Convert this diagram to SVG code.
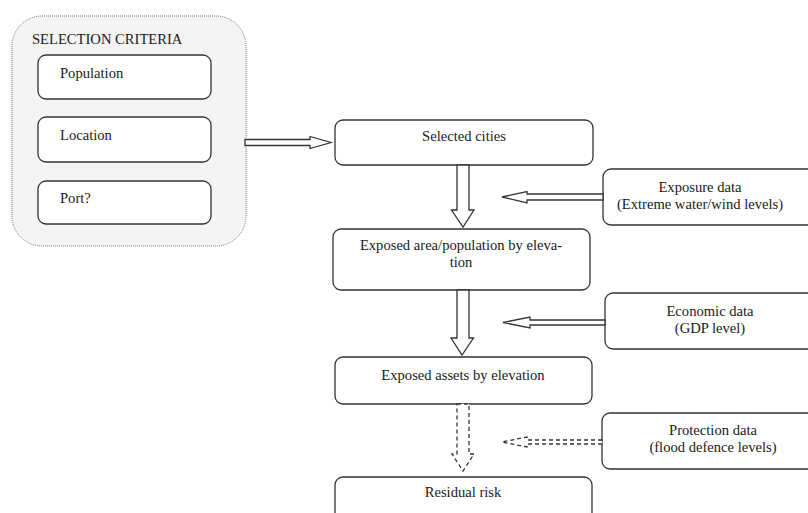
<svg xmlns="http://www.w3.org/2000/svg" width="808" height="513" viewBox="0 0 808 513">
<style>
text{font-family:'Liberation Serif','Times New Roman',Times,serif;font-size:14.6px;fill:#1a1a1a}
.c{text-anchor:middle}
.box{fill:#fff;stroke:#333;stroke-width:1.3}
.grp{fill:#f4f4f4;stroke:#777;stroke-width:1;stroke-dasharray:1 1}
.arr{fill:#fff;stroke:#333;stroke-width:1.3;stroke-linejoin:miter}
.dash{stroke-dasharray:4 3}
</style>
<rect width="808" height="513" fill="#fff"/>
<g id="selection-criteria">
<rect class="grp" x="12" y="16" width="234" height="230" rx="30"/>
<text x="32" y="44">SELECTION CRITERIA</text>
</g>
<g id="population">
<rect class="box" x="38" y="55" width="173" height="44" rx="8"/>
<text x="60" y="78">Population</text>
</g>
<g id="location">
<rect class="box" x="38" y="117" width="173" height="45" rx="8"/>
<text x="60" y="140">Location</text>
</g>
<g id="port">
<rect class="box" x="38" y="181" width="173" height="43" rx="8"/>
<text x="60" y="203">Port?</text>
</g>
<g id="selected-cities">
<rect class="box" x="335" y="120" width="258" height="45" rx="8"/>
<text class="c" x="464" y="141">Selected cities</text>
</g>
<g id="exposed-area">
<rect class="box" x="333" y="229" width="257" height="61" rx="8"/>
<text class="c" x="461" y="250">Exposed area/population by eleva-</text>
<text class="c" x="461" y="267">tion</text>
</g>
<g id="exposed-assets">
<rect class="box" x="335" y="357" width="257" height="47" rx="8"/>
<text class="c" x="463" y="380">Exposed assets by elevation</text>
</g>
<g id="residual-risk">
<rect class="box" x="335" y="477" width="257" height="50" rx="8"/>
<text class="c" x="463" y="497">Residual risk</text>
</g>
<g id="exposure-data">
<rect class="box" x="603" y="169" width="220" height="56" rx="8"/>
<text class="c" x="700" y="192">Exposure data</text>
<text class="c" x="700" y="209">(Extreme water/wind levels)</text>
</g>
<g id="economic-data">
<rect class="box" x="605" y="293" width="220" height="56" rx="8"/>
<text class="c" x="710" y="316">Economic data</text>
<text class="c" x="710" y="333">(GDP level)</text>
</g>
<g id="protection-data">
<rect class="box" x="602" y="413" width="220" height="56" rx="8"/>
<text class="c" x="713" y="435">Protection data</text>
<text class="c" x="713" y="452">(flood defence levels)</text>
</g>
<g id="connectors">
<polygon class="arr" points="245,139.5 310,139.5 310,136.5 331,142.5 310,148.5 310,145.5 245,145.5"/>
<polygon class="arr" points="457,165 469,165 469,210 474,210 463,227 451.5,210 457,210"/>
<polygon class="arr" points="603,194 527,194 527,191.5 502,197 527,203 527,200 603,200"/>
<polygon class="arr" points="457,290 469,290 469,338 473.5,338 462,355 451,338 457,338"/>
<polygon class="arr" points="605,320 530,320 530,317 503,322.5 530,328 530,325 605,325"/>
<polygon class="arr dash" points="457,404 469,404 469,454 474,454 463,471 452,454 457,454"/>
<polygon class="arr dash" points="602,440 527,440 527,437 502,442 527,447 527,444 602,444"/>
</g>
</svg>
